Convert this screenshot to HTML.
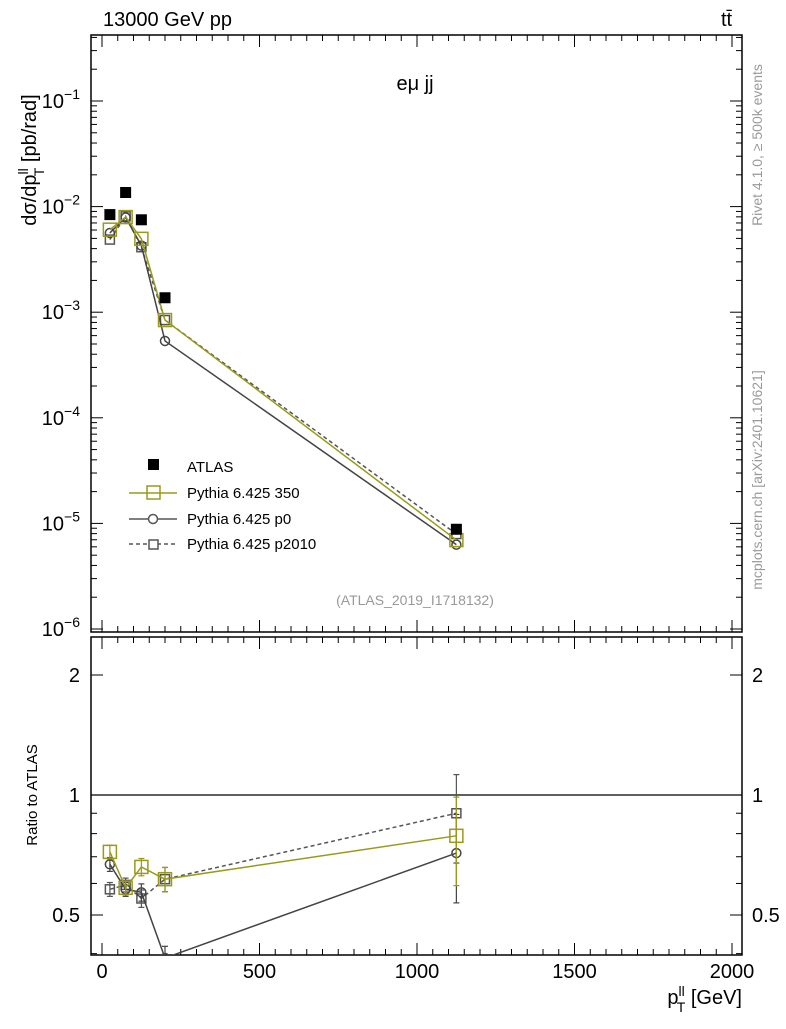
<!DOCTYPE html>
<html><head><meta charset="utf-8"><style>
body{margin:0;background:#fff;}
svg text{font-family:"Liberation Sans",sans-serif;}
</style></head><body>
<svg id="c" width="786" height="1024" xmlns="http://www.w3.org/2000/svg">
<rect x="0" y="0" width="786" height="1024" fill="#fff"/>
<g id="axes"></g>
<g id="marks"></g>
<text x="103" y="26" font-size="20">13000 GeV pp</text>
<text x="721" y="26" font-size="20">tt̄</text>
<text x="415" y="90" font-size="20" text-anchor="middle">eμ jj</text>
<text x="415" y="605" font-size="14" fill="#999" text-anchor="middle">(ATLAS_2019_I1718132)</text>
<text transform="translate(36,160) rotate(-90)" font-size="20" text-anchor="middle">dσ/dp<tspan font-size="14" dy="-8">ll</tspan><tspan font-size="14" dx="-8" dy="16">T</tspan><tspan dy="-8"> [pb/rad]</tspan></text>
<text transform="translate(37,795) rotate(-90)" font-size="15" text-anchor="middle">Ratio to ATLAS</text>
<text x="742" y="1004" font-size="20" text-anchor="end">p<tspan font-size="14" dy="-8">ll</tspan><tspan font-size="14" dx="-8" dy="16">T</tspan><tspan dy="-8"> [GeV]</tspan></text>
<text transform="translate(762,145) rotate(-90)" font-size="14" fill="#999" text-anchor="middle">Rivet 4.1.0, ≥ 500k events</text>
<text transform="translate(762,480) rotate(-90)" font-size="14" fill="#999" text-anchor="middle">mcplots.cern.ch [arXiv:2401.10621]</text>
<g>
<rect x="148" y="459" width="11" height="11" fill="#000"/>
<text x="187" y="472" font-size="15">ATLAS</text>
<line x1="129" y1="493" x2="177" y2="493" stroke="#9a9a1a" stroke-width="1.5"/>
<rect x="147" y="486" width="13" height="13" fill="none" stroke="#9a9a1a" stroke-width="1.5"/>
<text x="187" y="498" font-size="15">Pythia 6.425 350</text>
<line x1="129" y1="519" x2="177" y2="519" stroke="#555" stroke-width="1.5"/>
<circle cx="153" cy="519" r="4.5" fill="#fff" stroke="#555" stroke-width="1.5"/>
<text x="187" y="524" font-size="15">Pythia 6.425 p0</text>
<line x1="129" y1="544" x2="177" y2="544" stroke="#555" stroke-width="1.5" stroke-dasharray="4,3"/>
<rect x="149" y="540" width="9" height="9" fill="#fff" stroke="#555" stroke-width="1.5"/>
<text x="187" y="549" font-size="15">Pythia 6.425 p2010</text>
</g>
</svg>
<script>
const xVals=[25,75,125,200,1125];
const atlas=[8.4e-3,1.36e-2,7.5e-3,1.37e-3,8.8e-6];
const ratio350=[0.72,0.585,0.66,0.615,0.79];
const ratioP0=[0.67,0.58,0.57,0.39,0.715];
const ratioP2010=[0.58,0.595,0.55,0.615,0.9];
const ratioErr=[0.04,0.04,0.05,0.07,0.25];
const xTicks=[0,500,1000,1500,2000];
const yMainTicks=[-6,-5,-4,-3,-2,-1];
const yRatioTicks=[0.5,1,2];

const NS="http://www.w3.org/2000/svg";
const L=91,R=742,MT=35,MB=632,RT=637,RB=955;
const X=v=>102+v*0.315;
const YM=v=>629-(Math.log10(v)+6)*105.6;
const YR=v=>795-Math.log2(v)*120;
const ax=document.getElementById('axes'),mk=document.getElementById('marks');
function el(p,t,a){const e=document.createElementNS(NS,t);for(const k in a)e.setAttribute(k,a[k]);p.appendChild(e);return e;}
function ln(p,x1,y1,x2,y2,s,w,d){const e=el(p,'line',{x1,y1,x2,y2,stroke:s||'#000','stroke-width':w||1});if(d)e.setAttribute('stroke-dasharray',d);return e;}
const f1=el(ax,'rect',{x:L,y:MT,width:R-L,height:MB-MT,fill:'none',stroke:'#000','stroke-width':1.5});

const f2=el(ax,'rect',{x:L,y:RT,width:R-L,height:RB-RT,fill:'none',stroke:'#000','stroke-width':1.5});

for(let v=0;v<=2000;v+=50){const x=X(v);const maj=v%500===0;const len=maj?12:6;
 for(const [t,b] of [[MT,MB],[RT,RB]]){ln(ax,x,b,x,b-len);ln(ax,x,t,x,t+len);} }
xTicks.forEach(v=>{const t=el(ax,'text',{x:X(v),y:978,'font-size':20,'text-anchor':'middle'});t.textContent=v;
 });
for(let d=-7;d<0;d++){for(let m=1;m<10;m++){const v=m*Math.pow(10,d);const y=YM(v);if(y<MT||y>MB)continue;const len=m===1?12:6;ln(ax,L,y,L+len,y);ln(ax,R,y,R-len,y);}}
yMainTicks.forEach(e=>{const t=el(ax,'text',{x:80,y:YM(Math.pow(10,e))+7,'font-size':20,'text-anchor':'end'});
 t.innerHTML='10<tspan font-size="14" dy="-9">'+(e<0?'−':'')+Math.abs(e)+'</tspan>';
 });
[0.4,0.5,0.6,0.7,0.8,0.9,1,2].forEach(v=>{const y=YR(v);const len=[0.5,1,2].includes(v)?12:6;ln(ax,L,y,L+len,y);ln(ax,R,y,R-len,y);});
yRatioTicks.forEach(v=>{for(const [x,a] of [[80,'end'],[752,'start']]){const t=el(ax,'text',{x,y:YR(v)+7,'font-size':20,'text-anchor':a});t.textContent=v;
 }});
ln(ax,L,YR(1),R,YR(1),'#000',1.2);
const defs=el(mk,'defs',{});
const cp=el(defs,'clipPath',{id:'cr'});el(cp,'rect',{x:L,y:RT,width:R-L,height:RB-RT});
const cm=el(defs,'clipPath',{id:'cm'});el(cm,'rect',{x:L,y:MT,width:R-L,height:MB-MT});
const gM=el(mk,'g',{'clip-path':'url(#cm)'}),gR=el(mk,'g',{'clip-path':'url(#cr)'});
const series=[
 {r:ratioP2010,c:'#555',d:'4,3',m:'sq',s:9,n:'p2010'},
 {r:ratioP0,c:'#444',d:null,m:'ci',s:4.5,n:'p0'},
 {r:ratio350,c:'#9a9a1a',d:null,m:'sq',s:13,n:'350'}];
function marker(g,m,x,y,s,c,name){let e;if(m==='sq')e=el(g,'rect',{x:x-s/2,y:y-s/2,width:s,height:s,fill:'none',stroke:c,'stroke-width':1.5});
 else e=el(g,'circle',{cx:x,cy:y,r:s,fill:'none',stroke:c,'stroke-width':1.5});
 }
series.forEach(S=>{
 const pm=xVals.map((x,i)=>X(x)+','+YM(atlas[i]*S.r[i])).join(' ');
 const pr=xVals.map((x,i)=>X(x)+','+YR(S.r[i])).join(' ');
 const a=el(gM,'polyline',{points:pm,fill:'none',stroke:S.c,'stroke-width':1.5});if(S.d)a.setAttribute('stroke-dasharray',S.d);
 
 const b=el(gR,'polyline',{points:pr,fill:'none',stroke:S.c,'stroke-width':1.5});if(S.d)b.setAttribute('stroke-dasharray',S.d);
 
 xVals.forEach((x,i)=>{const px=X(x);
  const y1=YR(S.r[i]*(1+ratioErr[i])),y2=YR(Math.max(0.01,S.r[i]*(1-ratioErr[i])));
  ln(gR,px,y1,px,y2,S.c,1.2);ln(gR,px-3,y1,px+3,y1,S.c,1.2);ln(gR,px-3,y2,px+3,y2,S.c,1.2);
  marker(gR,S.m,px,YR(S.r[i]),S.s,S.c,'ratio-point-'+S.n);
  marker(gM,S.m,px,YM(atlas[i]*S.r[i]),S.s,S.c,'main-point-'+S.n);});
});
xVals.forEach((x,i)=>{const r=el(gM,'rect',{x:X(x)-5.5,y:YM(atlas[i])-5.5,width:11,height:11,fill:'#000'});
 });
</script>
</body></html>
